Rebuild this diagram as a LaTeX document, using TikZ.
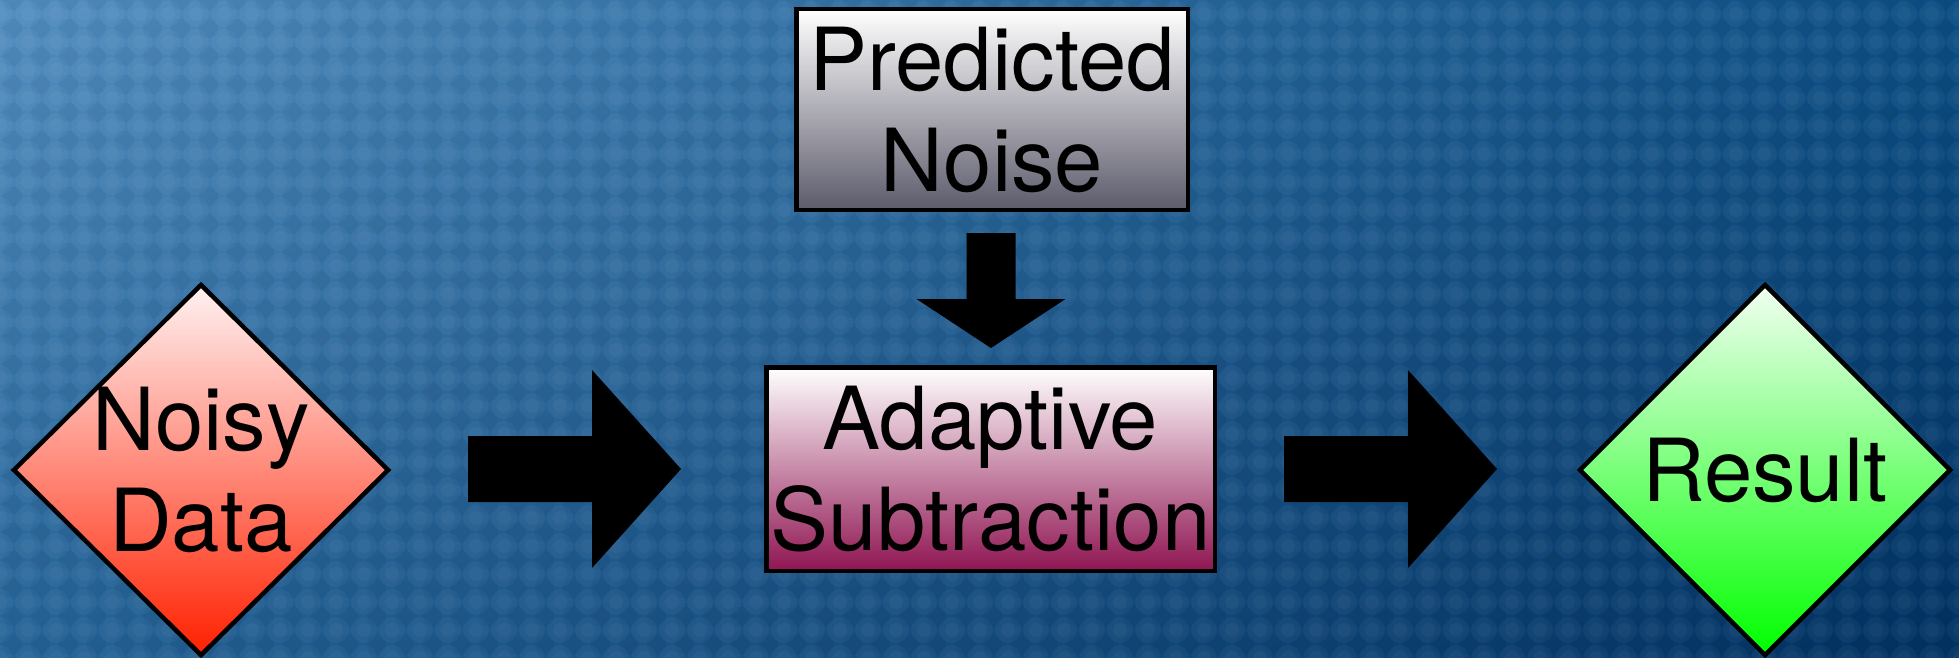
\documentclass[tikz,border=0pt]{standalone}
\usepackage{fontspec}
\setmainfont{TeX Gyre Heros}
\usetikzlibrary{shapes.geometric,shadings,patterns}

\definecolor{bgUL}{RGB}{82,142,192}
\definecolor{bgUR}{RGB}{12,78,132}
\definecolor{bgLL}{RGB}{36,98,150}
\definecolor{bgLR}{RGB}{2,50,98}
\definecolor{greyBot}{RGB}{92,91,107}
\definecolor{plumBot}{RGB}{143,21,82}
\definecolor{redTop}{RGB}{255,242,242}
\definecolor{redBot}{RGB}{255,32,0}
\definecolor{greenTop}{RGB}{242,255,242}
\definecolor{greenBot}{RGB}{0,255,0}

% quilted background texture tiles
\pgfdeclarepatternformonly{quiltbig}{\pgfpoint{-14pt}{-14pt}}{\pgfpoint{14pt}{14pt}}%
  {\pgfpoint{28pt}{28pt}}{\pgfpathcircle{\pgfpointorigin}{13pt}\pgfusepath{fill}}
\pgfdeclarepatternformonly{quiltsmall}{\pgfpoint{-14pt}{-14pt}}{\pgfpoint{14pt}{14pt}}%
  {\pgfpoint{28pt}{28pt}}{\pgfpathcircle{\pgfpointorigin}{7pt}\pgfusepath{fill}}
\pgfdeclarepatternformonly{quiltdark}{\pgfpoint{0pt}{0pt}}{\pgfpoint{28pt}{28pt}}%
  {\pgfpoint{28pt}{28pt}}{\pgfpathcircle{\pgfpoint{14pt}{14pt}}{10pt}\pgfusepath{fill}}

\newcommand\diagfont{\fontsize{87}{101}\selectfont}

\tikzset{
  boxnode/.style={rectangle, draw=black, line width=4.5pt, inner sep=0pt,
    align=center, font=\diagfont, text=black},
  diamondbox/.style={diamond, aspect=1, draw=black, line width=4.5pt,
    inner sep=0pt},
  diamondtext/.style={align=center, font=\diagfont, text=black, inner sep=0pt},
  blockarrow/.style={fill=black},
}

\begin{document}
\begin{tikzpicture}[x=1pt,y=-1pt]
\useasboundingbox (0,0) rectangle (1959,658);

% background: blue gradient with a faint quilted texture
\shade[upper left=bgUL, upper right=bgUR, lower left=bgLL, lower right=bgLR]
  (0,0) rectangle (1959,658);
\fill[pattern=quiltbig, pattern color=white, fill opacity=0.035] (0,0) rectangle (1959,658);
\fill[pattern=quiltsmall, pattern color=white, fill opacity=0.035] (0,0) rectangle (1959,658);
\fill[pattern=quiltdark, pattern color=black, fill opacity=0.04] (0,0) rectangle (1959,658);

% process nodes
\node[diamondbox, top color=redTop, bottom color=redBot,
      minimum width=376, minimum height=372] (noisy) at (201,470) {};
\node[diamondtext] (noisytext) at (noisy.center) {Noisy\\Data};

\node[boxnode, top color=white, bottom color=greyBot,
      minimum width=391.5, minimum height=200.5] (pred) at (992,109.5)
      {Predicted\\Noise};

\node[boxnode, top color=white, bottom color=plumBot,
      minimum width=448.5, minimum height=203.5] (adapt) at (990.5,469)
      {Adaptive\\Subtraction};

\node[diamondbox, top color=greenTop, bottom color=greenBot,
      minimum width=372, minimum height=372] (result) at (1765,470) {};
\node[diamondtext] (resulttext) at (result.center) {Result};

% block arrows between the stages
\coordinate (a1s) at (468,469);
\coordinate (a1t) at (681,469);
\coordinate (a2s) at (1284,469);
\coordinate (a2t) at (1497,469);
\coordinate (das) at (991,233);
\coordinate (dat) at (991,348);

\fill[blockarrow] (a1s) ++(0,-33) -- ++(124,0) -- ++(0,-66) -- (a1t)
  -- ++(-89,99) -- ++(0,-66) -- ++(-124,0) -- cycle;
\fill[blockarrow] (a2s) ++(0,-33) -- ++(124,0) -- ++(0,-66) -- (a2t)
  -- ++(-89,99) -- ++(0,-66) -- ++(-124,0) -- cycle;
\fill[blockarrow] (das) ++(-24.5,0) -- ++(0,66) -- ++(-50,0) -- (dat)
  -- ++(74.5,-49) -- ++(-50,0) -- ++(0,-66) -- cycle;
\end{tikzpicture}
\end{document}
